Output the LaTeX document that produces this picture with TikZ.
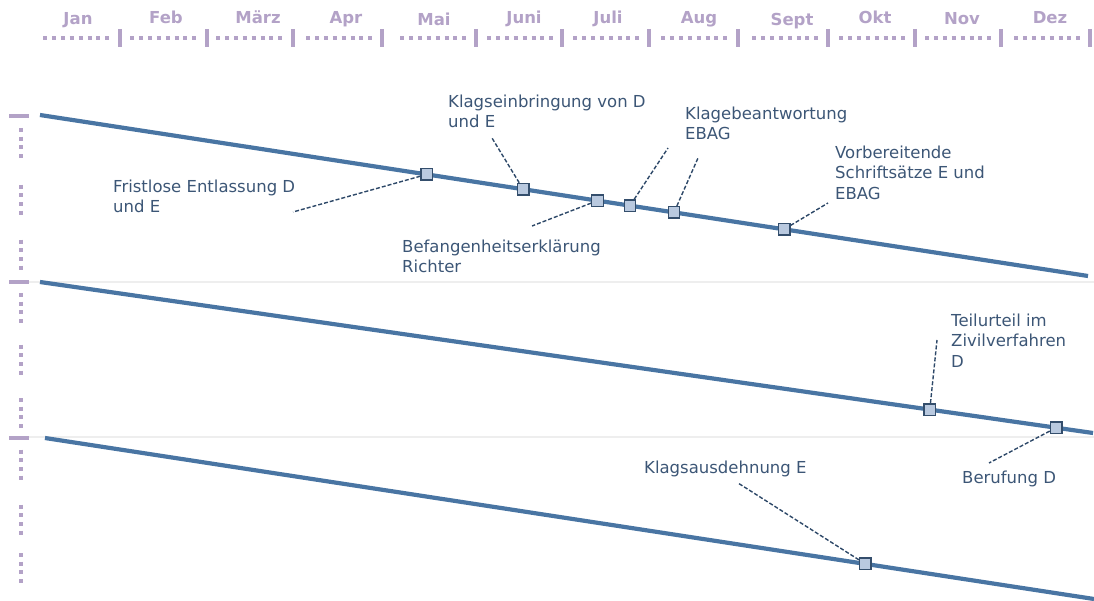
\documentclass[tikz,border=0pt]{standalone}
\usepackage{fontspec}
\setmainfont{DejaVu Sans}
\definecolor{monthpurple}{RGB}{179,162,199}
\definecolor{lineblue}{RGB}{73,117,163}
\definecolor{boxfill}{RGB}{185,201,223}
\definecolor{boxdraw}{RGB}{52,78,108}
\definecolor{labeltext}{RGB}{60,86,118}
\definecolor{leadercol}{RGB}{45,72,104}
\definecolor{sepgray}{RGB}{238,238,238}
\begin{document}
\begin{tikzpicture}
[x=1pt,y=-1pt,
  monthdecorate/.style={text=monthpurple,font=\fontsize{16.5}{19}\selectfont\bfseries,inner sep=0pt,anchor=base},%
  dotdecorate/.style={monthpurple,line width=4pt,dash pattern=on 4pt off 4.9pt},%
  vdotdecorate/.style={monthpurple,line width=4pt,dash pattern=on 4pt off 4.67pt},%
  bardecorate/.style={monthpurple,line width=4pt},%
  trackdecorate/.style={lineblue,line width=4.2pt},%
  boxdecorate/.style={shape=rectangle,draw=boxdraw,fill=boxfill,line width=1.4pt,minimum size=11.5pt,inner sep=0pt},%
  leaderdecorate/.style={leadercol,line width=1.4pt,dash pattern=on 4pt off 2pt},%
  labeldecorate/.style={text=labeltext,font=\fontsize{16.5}{20.5}\selectfont,align=left,anchor=north west,inner sep=0pt}]
\useasboundingbox (0,0) rectangle (1094,601);
% month header
\foreach \name/\cx/\cy/\ds/\bx in {Jan/78/25/43/119.5, Feb/166/24/130/207, März/258/24/216/293,
  Apr/346/23.5/306/382, Mai/434/25.5/400/476, Juni/524/24/487/562, Juli/608/24/573/649,
  Aug/699/23.5/661/738, Sept/792/26/752/828, Okt/875/24/839/915, Nov/962/24.5/925/1001,
  Dez/1050/23.5/1014/1090}
{
  \node [monthdecorate] at (\cx,\cy) {\name};
  \draw [dotdecorate] (\ds,38) -- ++(66,0);
  \draw [bardecorate] (\bx,29) -- (\bx,47);
}
% separators and left axis
\draw [sepgray,line width=1.5pt] (28,282) -- (1094,282);
\draw [sepgray,line width=1.5pt] (28,437) -- (1094,437);
\foreach \y in {116,282,438}
  \draw [bardecorate] (9,\y) -- (29,\y);
\foreach \y in {128,184.7,239.7,293,344.7,398,449.7,504.7,553}
  \draw [vdotdecorate] (21,\y) -- ++(0,30);
% tracks
\coordinate (t1s) at (40,115);
\coordinate (t1e) at (1088,276);
\coordinate (t2s) at (40,282);
\coordinate (t2e) at (1093,433);
\coordinate (t3s) at (45,438);
\coordinate (t3e) at (1094,599);
\draw [trackdecorate] (t1s) -- (t1e);
\draw [trackdecorate] (t2s) -- (t2e);
\draw [trackdecorate] (t3s) -- (t3e);
% events
\path (t1s) -- (t1e)
  node [boxdecorate,pos=.369] (fristlose) {}
  node [boxdecorate,pos=.461] (klagsein) {}
  node [boxdecorate,pos=.532] (befangen) {}
  node [boxdecorate,pos=.563] (antwort1) {}
  node [boxdecorate,pos=.605] (antwort2) {}
  node [boxdecorate,pos=.710] (vorbereit) {};
\path (t2s) -- (t2e)
  node [boxdecorate,pos=.845] (teilurteil) {}
  node [boxdecorate,pos=.965] (berufung) {};
\path (t3s) -- (t3e)
  node [boxdecorate,pos=.782] (klagsaus) {};
% labels
\node [labeldecorate] (lblfristlose) at (113,179.5) {Fristlose Entlassung D\\und E};
\node [labeldecorate] (lblklagsein) at (448,94.5) {Klagseinbringung von D\\und E};
\node [labeldecorate] (lblbefangen) at (402,239.5) {Befangenheitserklärung\\Richter};
\node [labeldecorate] (lblantwort) at (685,106.5) {Klagebeantwortung\\EBAG};
\node [labeldecorate] (lblvorbereit) at (835,145.5) {Vorbereitende\\Schriftsätze E und\\EBAG};
\node [labeldecorate] (lblteilurteil) at (951,313.5) {Teilurteil im\\Zivilverfahren\\D};
\node [labeldecorate] (lblberufung) at (962,470.5) {Berufung D};
\node [labeldecorate] (lblklagsaus) at (644,460.5) {Klagsausdehnung E};
% leader ends
\coordinate (efristlose) at (293,212);
\coordinate (eklagsein) at (492,138);
\coordinate (ebefangen) at (532,226);
\coordinate (eantwort1) at (668,148);
\coordinate (eantwort2) at (698,158);
\coordinate (evorbereit) at (828,203);
\coordinate (eteilurteil) at (937,340);
\coordinate (eberufung) at (989,463);
\coordinate (eklagsaus) at (738,483);
% leaders
\path
(fristlose) edge[leaderdecorate] (efristlose)
(klagsein) edge[leaderdecorate] (eklagsein)
(befangen) edge[leaderdecorate] (ebefangen)
(antwort1) edge[leaderdecorate] (eantwort1)
(antwort2) edge[leaderdecorate] (eantwort2)
(vorbereit) edge[leaderdecorate] (evorbereit)
(teilurteil) edge[leaderdecorate] (eteilurteil)
(berufung) edge[leaderdecorate] (eberufung)
(klagsaus) edge[leaderdecorate] (eklagsaus);
\end{tikzpicture}
\end{document}
